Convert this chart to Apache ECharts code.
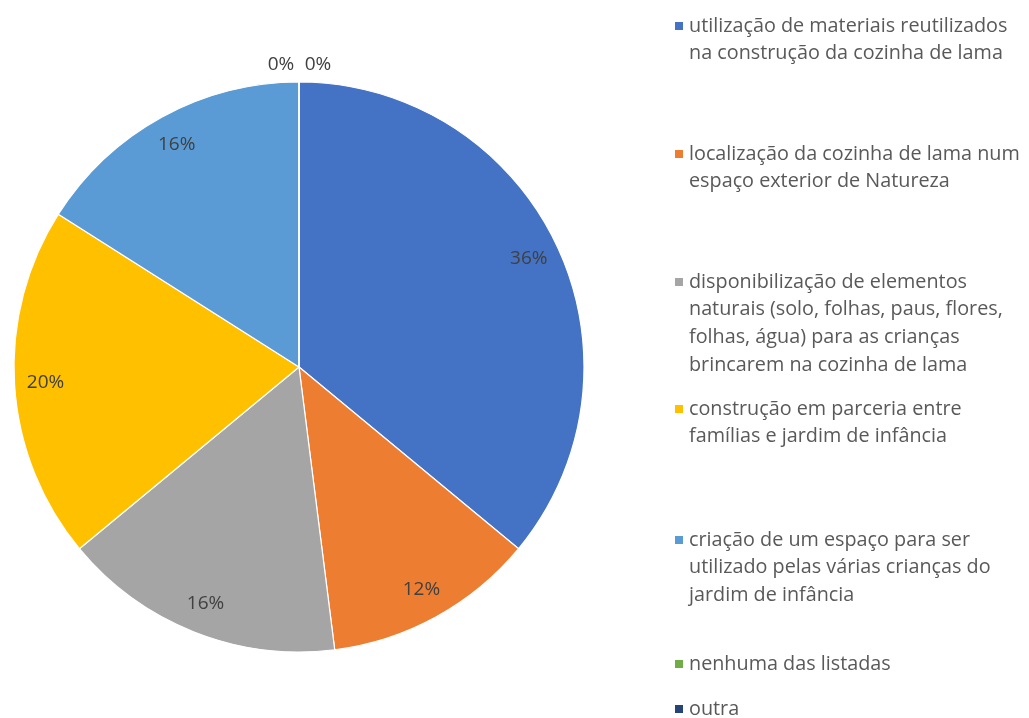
<!DOCTYPE html>
<html>
<head>
<meta charset="utf-8">
<script src="https://cdn.jsdelivr.net/npm/echarts@6/dist/echarts.min.js"></script>
<style>
  html, body { margin: 0; padding: 0; background: #fff; }
  #chart { width: 1029px; height: 718px; }
</style>
</head>
<body>
<div id="chart"></div>
<script>
(function () {
  var categories = [
    'utilização de materiais reutilizados na construção da cozinha de lama',
    'localização da cozinha de lama num espaço exterior de Natureza',
    'disponibilização de elementos naturais (solo, folhas, paus, flores, folhas, água) para as crianças brincarem na cozinha de lama',
    'construção em parceria entre famílias e jardim de infância',
    'criação de um espaço para ser utilizado pelas várias crianças do jardim de infância',
    'nenhuma das listadas',
    'outra'
  ];
  var values = [36, 12, 16, 20, 16, 0, 0];
  // legend text as wrapped in the original
  var legendLines = [
    ['utilização de materiais reutilizados', 'na construção da cozinha de lama'],
    ['localização da cozinha de lama num', 'espaço exterior de Natureza'],
    ['disponibilização de elementos', 'naturais (solo, folhas, paus, flores,', 'folhas, água) para as crianças', 'brincarem na cozinha de lama'],
    ['construção em parceria entre', 'famílias e jardim de infância'],
    ['criação de um espaço para ser', 'utilizado pelas várias crianças do', 'jardim de infância'],
    ['nenhuma das listadas'],
    ['outra']
  ];
  var colors = ['#4472C4', '#ED7D31', '#A5A5A5', '#FFC000', '#5B9BD5', '#70AD47', '#264478'];

  // y of first legend line for each item
  var legendRows = [26, 154, 282, 409, 540, 664, 709];
  var lineH = 27.8;
  var zeroOffsets = [[-18, -48], [19, -48]];
  var font = 'Open Sans';

  var myChart = echarts.init(document.getElementById('chart'));

  var legends = categories.map(function (name, i) {
    var n = legendLines[i].length;
    // blank lines before the text so the first line sits beside the icon
    var pad = new Array(n).join('\n');
    return {
      left: 673,
      top: legendRows[i] - (2 * n - 1) * lineH / 2,
      orient: 'vertical',
      icon: 'rect',
      itemWidth: 10,
      itemHeight: 10,
      padding: 0,
      selectedMode: false,
      data: [name],
      formatter: function () { return pad + legendLines[i].join('\n'); },
      textStyle: {
        color: '#595959',
        fontSize: 19.8,
        fontFamily: font,
        lineHeight: lineH
      }
    };
  });

  var zeroCount = 0;
  var labelData = categories.map(function (name, i) {
    var d = { name: name, value: values[i] };
    if (values[i] === 0) {
      d.label = { offset: zeroOffsets[zeroCount++] };
    }
    return d;
  });

  myChart.setOption({
    backgroundColor: '#fff',
    color: colors,
    animation: false,
    legend: legends,
    series: [
      {
        name: 'main',
        type: 'pie',
        center: [299, 367],
        radius: [0, 285],
        startAngle: 90,
        clockwise: true,
        label: { show: false },
        labelLine: { show: false },
        emphasis: { disabled: true },
        itemStyle: { borderColor: '#fff', borderWidth: 1.2 },
        data: categories.map(function (name, i) {
          return { name: name, value: values[i] };
        })
      },
      {
        name: 'labels',
        type: 'pie',
        center: [299, 367],
        radius: [217, 285],
        startAngle: 90,
        clockwise: true,
        silent: true,
        legendHoverLink: false,
        itemStyle: { color: 'transparent', borderWidth: 0 },
        emphasis: { disabled: true },
        label: {
          show: true,
          position: 'inside',
          formatter: '{c}%',
          color: '#404040',
          fontSize: 19,
          fontFamily: font
        },
        labelLine: { show: false },
        data: labelData
      }
    ]
  });

  window.addEventListener('resize', function () {
    myChart.resize();
  });
})();
</script>
</body>
</html>
